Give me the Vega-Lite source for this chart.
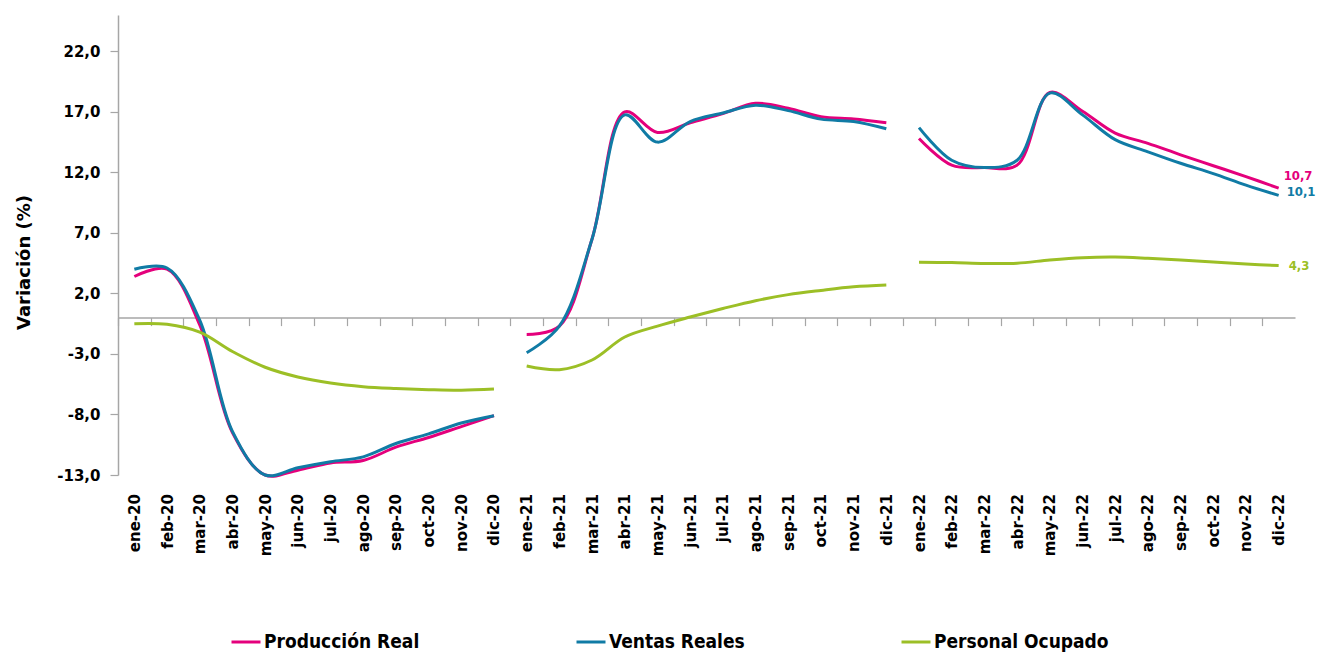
{
 "$schema": "https://vega.github.io/schema/vega-lite/v6.json",
 "width": 1177,
 "height": 460,
 "autosize": {"type": "none"},
 "padding": {"left": 118, "top": 15, "right": 22, "bottom": 177},
 "config": {
  "view": {"stroke": null},
  "locale": {"number": {"decimal": ",", "thousands": ".", "grouping": [3], "currency": ["", " €"], "minus": "-"}}
 },
 "data": {"values": [
  {"m":"ene-20","i":0,"yr":"2020","s":"Producción Real","v":3.4},
  {"m":"feb-20","i":1,"yr":"2020","s":"Producción Real","v":4.0},
  {"m":"mar-20","i":2,"yr":"2020","s":"Producción Real","v":-0.6},
  {"m":"abr-20","i":3,"yr":"2020","s":"Producción Real","v":-9.5},
  {"m":"may-20","i":4,"yr":"2020","s":"Producción Real","v":-13.0},
  {"m":"jun-20","i":5,"yr":"2020","s":"Producción Real","v":-12.6},
  {"m":"jul-20","i":6,"yr":"2020","s":"Producción Real","v":-12.0},
  {"m":"ago-20","i":7,"yr":"2020","s":"Producción Real","v":-11.8},
  {"m":"sep-20","i":8,"yr":"2020","s":"Producción Real","v":-10.7},
  {"m":"oct-20","i":9,"yr":"2020","s":"Producción Real","v":-9.9},
  {"m":"nov-20","i":10,"yr":"2020","s":"Producción Real","v":-9.0},
  {"m":"dic-20","i":11,"yr":"2020","s":"Producción Real","v":-8.1},
  {"m":"ene-21","i":12,"yr":"2021","s":"Producción Real","v":-1.4},
  {"m":"feb-21","i":13,"yr":"2021","s":"Producción Real","v":-0.7},
  {"m":"mar-21","i":14,"yr":"2021","s":"Producción Real","v":6.5},
  {"m":"abr-21","i":15,"yr":"2021","s":"Producción Real","v":17.0},
  {"m":"may-21","i":16,"yr":"2021","s":"Producción Real","v":15.3},
  {"m":"jun-21","i":17,"yr":"2021","s":"Producción Real","v":16.1},
  {"m":"jul-21","i":18,"yr":"2021","s":"Producción Real","v":16.85},
  {"m":"ago-21","i":19,"yr":"2021","s":"Producción Real","v":17.7},
  {"m":"sep-21","i":20,"yr":"2021","s":"Producción Real","v":17.3},
  {"m":"oct-21","i":21,"yr":"2021","s":"Producción Real","v":16.6},
  {"m":"nov-21","i":22,"yr":"2021","s":"Producción Real","v":16.4},
  {"m":"dic-21","i":23,"yr":"2021","s":"Producción Real","v":16.1},
  {"m":"ene-22","i":24,"yr":"2022","s":"Producción Real","v":14.8},
  {"m":"feb-22","i":25,"yr":"2022","s":"Producción Real","v":12.6},
  {"m":"mar-22","i":26,"yr":"2022","s":"Producción Real","v":12.4},
  {"m":"abr-22","i":27,"yr":"2022","s":"Producción Real","v":12.6},
  {"m":"may-22","i":28,"yr":"2022","s":"Producción Real","v":18.6},
  {"m":"jun-22","i":29,"yr":"2022","s":"Producción Real","v":17.05},
  {"m":"jul-22","i":30,"yr":"2022","s":"Producción Real","v":15.25},
  {"m":"ago-22","i":31,"yr":"2022","s":"Producción Real","v":14.4},
  {"m":"sep-22","i":32,"yr":"2022","s":"Producción Real","v":13.45},
  {"m":"oct-22","i":33,"yr":"2022","s":"Producción Real","v":12.55},
  {"m":"nov-22","i":34,"yr":"2022","s":"Producción Real","v":11.65},
  {"m":"dic-22","i":35,"yr":"2022","s":"Producción Real","v":10.7},
  {"m":"ene-20","i":0,"yr":"2020","s":"Ventas Reales","v":4.0},
  {"m":"feb-20","i":1,"yr":"2020","s":"Ventas Reales","v":4.1},
  {"m":"mar-20","i":2,"yr":"2020","s":"Ventas Reales","v":-0.2},
  {"m":"abr-20","i":3,"yr":"2020","s":"Ventas Reales","v":-9.4},
  {"m":"may-20","i":4,"yr":"2020","s":"Ventas Reales","v":-13.0},
  {"m":"jun-20","i":5,"yr":"2020","s":"Ventas Reales","v":-12.4},
  {"m":"jul-20","i":6,"yr":"2020","s":"Ventas Reales","v":-11.9},
  {"m":"ago-20","i":7,"yr":"2020","s":"Ventas Reales","v":-11.5},
  {"m":"sep-20","i":8,"yr":"2020","s":"Ventas Reales","v":-10.4},
  {"m":"oct-20","i":9,"yr":"2020","s":"Ventas Reales","v":-9.6},
  {"m":"nov-20","i":10,"yr":"2020","s":"Ventas Reales","v":-8.7},
  {"m":"dic-20","i":11,"yr":"2020","s":"Ventas Reales","v":-8.1},
  {"m":"ene-21","i":12,"yr":"2021","s":"Ventas Reales","v":-2.9},
  {"m":"feb-21","i":13,"yr":"2021","s":"Ventas Reales","v":-0.7},
  {"m":"mar-21","i":14,"yr":"2021","s":"Ventas Reales","v":6.5},
  {"m":"abr-21","i":15,"yr":"2021","s":"Ventas Reales","v":16.75},
  {"m":"may-21","i":16,"yr":"2021","s":"Ventas Reales","v":14.5},
  {"m":"jun-21","i":17,"yr":"2021","s":"Ventas Reales","v":16.2},
  {"m":"jul-21","i":18,"yr":"2021","s":"Ventas Reales","v":16.9},
  {"m":"ago-21","i":19,"yr":"2021","s":"Ventas Reales","v":17.55},
  {"m":"sep-21","i":20,"yr":"2021","s":"Ventas Reales","v":17.1},
  {"m":"oct-21","i":21,"yr":"2021","s":"Ventas Reales","v":16.4},
  {"m":"nov-21","i":22,"yr":"2021","s":"Ventas Reales","v":16.2},
  {"m":"dic-21","i":23,"yr":"2021","s":"Ventas Reales","v":15.6},
  {"m":"ene-22","i":24,"yr":"2022","s":"Ventas Reales","v":15.7},
  {"m":"feb-22","i":25,"yr":"2022","s":"Ventas Reales","v":13.0},
  {"m":"mar-22","i":26,"yr":"2022","s":"Ventas Reales","v":12.4},
  {"m":"abr-22","i":27,"yr":"2022","s":"Ventas Reales","v":13.0},
  {"m":"may-22","i":28,"yr":"2022","s":"Ventas Reales","v":18.55},
  {"m":"jun-22","i":29,"yr":"2022","s":"Ventas Reales","v":16.75},
  {"m":"jul-22","i":30,"yr":"2022","s":"Ventas Reales","v":14.7},
  {"m":"ago-22","i":31,"yr":"2022","s":"Ventas Reales","v":13.7},
  {"m":"sep-22","i":32,"yr":"2022","s":"Ventas Reales","v":12.75},
  {"m":"oct-22","i":33,"yr":"2022","s":"Ventas Reales","v":11.9},
  {"m":"nov-22","i":34,"yr":"2022","s":"Ventas Reales","v":10.95},
  {"m":"dic-22","i":35,"yr":"2022","s":"Ventas Reales","v":10.1},
  {"m":"ene-20","i":0,"yr":"2020","s":"Personal Ocupado","v":-0.5},
  {"m":"feb-20","i":1,"yr":"2020","s":"Personal Ocupado","v":-0.55},
  {"m":"mar-20","i":2,"yr":"2020","s":"Personal Ocupado","v":-1.2},
  {"m":"abr-20","i":3,"yr":"2020","s":"Personal Ocupado","v":-2.8},
  {"m":"may-20","i":4,"yr":"2020","s":"Personal Ocupado","v":-4.1},
  {"m":"jun-20","i":5,"yr":"2020","s":"Personal Ocupado","v":-4.9},
  {"m":"jul-20","i":6,"yr":"2020","s":"Personal Ocupado","v":-5.4},
  {"m":"ago-20","i":7,"yr":"2020","s":"Personal Ocupado","v":-5.7},
  {"m":"sep-20","i":8,"yr":"2020","s":"Personal Ocupado","v":-5.85},
  {"m":"oct-20","i":9,"yr":"2020","s":"Personal Ocupado","v":-5.95},
  {"m":"nov-20","i":10,"yr":"2020","s":"Personal Ocupado","v":-6.0},
  {"m":"dic-20","i":11,"yr":"2020","s":"Personal Ocupado","v":-5.9},
  {"m":"ene-21","i":12,"yr":"2021","s":"Personal Ocupado","v":-4.0},
  {"m":"feb-21","i":13,"yr":"2021","s":"Personal Ocupado","v":-4.3},
  {"m":"mar-21","i":14,"yr":"2021","s":"Personal Ocupado","v":-3.5},
  {"m":"abr-21","i":15,"yr":"2021","s":"Personal Ocupado","v":-1.6},
  {"m":"may-21","i":16,"yr":"2021","s":"Personal Ocupado","v":-0.7},
  {"m":"jun-21","i":17,"yr":"2021","s":"Personal Ocupado","v":0.05},
  {"m":"jul-21","i":18,"yr":"2021","s":"Personal Ocupado","v":0.75},
  {"m":"ago-21","i":19,"yr":"2021","s":"Personal Ocupado","v":1.4},
  {"m":"sep-21","i":20,"yr":"2021","s":"Personal Ocupado","v":1.9},
  {"m":"oct-21","i":21,"yr":"2021","s":"Personal Ocupado","v":2.25},
  {"m":"nov-21","i":22,"yr":"2021","s":"Personal Ocupado","v":2.55},
  {"m":"dic-21","i":23,"yr":"2021","s":"Personal Ocupado","v":2.7},
  {"m":"ene-22","i":24,"yr":"2022","s":"Personal Ocupado","v":4.57},
  {"m":"feb-22","i":25,"yr":"2022","s":"Personal Ocupado","v":4.55},
  {"m":"mar-22","i":26,"yr":"2022","s":"Personal Ocupado","v":4.48},
  {"m":"abr-22","i":27,"yr":"2022","s":"Personal Ocupado","v":4.5},
  {"m":"may-22","i":28,"yr":"2022","s":"Personal Ocupado","v":4.76},
  {"m":"jun-22","i":29,"yr":"2022","s":"Personal Ocupado","v":4.95},
  {"m":"jul-22","i":30,"yr":"2022","s":"Personal Ocupado","v":5.0},
  {"m":"ago-22","i":31,"yr":"2022","s":"Personal Ocupado","v":4.9},
  {"m":"sep-22","i":32,"yr":"2022","s":"Personal Ocupado","v":4.76},
  {"m":"oct-22","i":33,"yr":"2022","s":"Personal Ocupado","v":4.6},
  {"m":"nov-22","i":34,"yr":"2022","s":"Personal Ocupado","v":4.43},
  {"m":"dic-22","i":35,"yr":"2022","s":"Personal Ocupado","v":4.3}
 ]},
 "encoding": {
  "x": {"field": "m", "type": "ordinal",
   "scale": {"type": "point", "padding": 0.5, "domain": ["ene-20","feb-20","mar-20","abr-20","may-20","jun-20","jul-20","ago-20","sep-20","oct-20","nov-20","dic-20","ene-21","feb-21","mar-21","abr-21","may-21","jun-21","jul-21","ago-21","sep-21","oct-21","nov-21","dic-21","ene-22","feb-22","mar-22","abr-22","may-22","jun-22","jul-22","ago-22","sep-22","oct-22","nov-22","dic-22"]},
   "axis": {"title": null, "offset": -157.4, "domainColor": "#A6A6A6", "domainWidth": 1.5, "tickColor": "#A6A6A6", "tickSize": 8, "tickWidth": 1.2, "tickOffset": -16.35, "labelOffset": 16.35, "labelAngle": 270, "labelAlign": "right", "labelBaseline": "middle", "labelPadding": 168, "labelFont": "DejaVu Sans", "labelFontSize": 15, "labelFontWeight": "bold", "labelColor": "#000000", "grid": false}},
  "y": {"field": "v", "type": "quantitative",
   "scale": {"domain": [-13, 25], "nice": false, "zero": false},
   "axis": {"title": "Variación (%)", "values": [-13, -8, -3, 2, 7, 12, 17, 22], "format": ".1f", "grid": false, "domainColor": "#A6A6A6", "domainWidth": 1.5, "tickColor": "#A6A6A6", "tickSize": 8, "tickWidth": 1.2, "labelPadding": 10, "labelFont": "DejaVu Sans", "labelFontSize": 15, "labelFontWeight": "bold", "labelColor": "#000000", "titleFont": "DejaVu Sans", "titleFontSize": 18, "titleFontWeight": "bold", "titleColor": "#000000", "titleAngle": 270, "titleAlign": "center", "titleBaseline": "middle", "titleX": -94, "titleY": 247}},
  "color": {"field": "s", "type": "nominal",
   "scale": {"domain": ["Producción Real", "Ventas Reales", "Personal Ocupado"], "range": ["#E4007C", "#107BA5", "#9CBF26"]},
   "legend": null}
 },
 "layer": [
  {"mark": {"type": "line", "interpolate": "catmull-rom", "strokeWidth": 3},
   "encoding": {
    "detail": {"field": "yr"},
    "order": {"field": "i", "type": "quantitative"},
    "color": {"field": "s", "type": "nominal",
     "legend": {"title": null, "orient": "none", "legendX": 112, "legendY": 611, "direction": "horizontal", "symbolType": "stroke", "symbolSize": 841, "symbolStrokeWidth": 3, "labelFont": "DejaVu Sans Condensed", "labelFontSize": 19, "labelFontWeight": "bold", "labelColor": "#000000", "labelLimit": 400, "columnPadding": 150, "labelOffset": 2, "padding": 0}}
   }},
  {"transform": [{"filter": "datum.i == 35 && datum.s == 'Producción Real'"}],
   "mark": {"type": "text", "align": "left", "baseline": "middle", "dx": 5, "dy": -12, "font": "DejaVu Sans Condensed", "fontSize": 13, "fontWeight": "bold"},
   "encoding": {"text": {"field": "v", "type": "quantitative", "format": ".1f"}}},
  {"transform": [{"filter": "datum.i == 35 && datum.s == 'Ventas Reales'"}],
   "mark": {"type": "text", "align": "left", "baseline": "middle", "dx": 8, "dy": -3, "font": "DejaVu Sans Condensed", "fontSize": 13, "fontWeight": "bold"},
   "encoding": {"text": {"field": "v", "type": "quantitative", "format": ".1f"}}},
  {"transform": [{"filter": "datum.i == 35 && datum.s == 'Personal Ocupado'"}],
   "mark": {"type": "text", "align": "left", "baseline": "middle", "dx": 10, "dy": 0, "font": "DejaVu Sans Condensed", "fontSize": 13, "fontWeight": "bold"},
   "encoding": {"text": {"field": "v", "type": "quantitative", "format": ".1f"}}}
 ]
}
